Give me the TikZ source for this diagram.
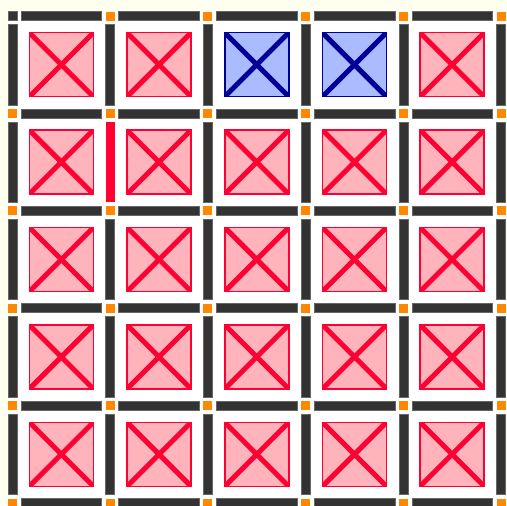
\documentclass[tikz,border=0pt]{standalone}
\usepackage[dvipsnames,svgnames,table]{xcolor}
\usepackage{tikz}
\usetikzlibrary{positioning}

\definecolor{cream}{HTML}{FFFFF0}
\definecolor{wallgray}{HTML}{333333}
\definecolor{postorange}{HTML}{FF8800}
\definecolor{cellred}{HTML}{FF0033}
\definecolor{cellpink}{HTML}{FFB3BA}
\definecolor{cellblue}{HTML}{000099}
\definecolor{cellsky}{HTML}{AABBFF}

\begin{document}
\begin{tikzpicture}[x=97.7pt, y=-97.4pt, shift={(12.5pt,-16pt)},
  wall/.style={fill=wallgray, draw=black!60, line width=0.5pt},
  redwall/.style={fill=cellred},
  post/.style={fill=postorange},
  cornerpost/.style={fill=wallgray, draw=black!60, line width=0.5pt},
  cellbox/.style={draw=edge, fill=face, line width=1.5pt, minimum size=64pt, inner sep=0pt, outer sep=0pt},
  cellcross/.style={draw=edge, line width=5pt}]
  % Background and frame
  \fill[cream] (-12.5pt,16pt) rectangle (494.5pt,-490pt);
  \useasboundingbox (-12.5pt,16pt) rectangle (494.5pt,-490pt);
  \clip (-12.5pt,16pt) rectangle (494.5pt,-490pt);
  \fill[white] ([shift={(-4.5pt,4.5pt)}]0,0) rectangle ([shift={(4.5pt,-4.5pt)}]5,5);

  % Cells
  \foreach \r in {0,...,4}
    \foreach \c in {0,...,4} {
      \colorlet{edge}{cellred}\colorlet{face}{cellpink}
      \ifnum\r=0 \ifnum\c>1 \ifnum\c<4
        \colorlet{edge}{cellblue}\colorlet{face}{cellsky}
      \fi\fi\fi
      \node[cellbox] (cell-\r-\c) at (\c+0.5,\r+0.5) {};
      \begin{scope}
        \clip (cell-\r-\c.north west) rectangle (cell-\r-\c.south east);
        \draw[cellcross] (cell-\r-\c.north west) -- (cell-\r-\c.south east)
                         (cell-\r-\c.north east) -- (cell-\r-\c.south west);
      \end{scope}
    }

  % Horizontal walls
  \foreach \i in {0,...,4}
    \foreach \j in {0,...,5}
      \path[wall] ([shift={(8.5pt,4.5pt)}]\i,\j) rectangle ([shift={(-8.5pt,-4.5pt)}]\i+1,\j);

  % Vertical walls
  \foreach \i in {0,...,5}
    \foreach \j in {0,...,4} {
      \def\look{wall}
      \ifnum\i=1 \ifnum\j=1 \def\look{redwall}\fi\fi
      \path[\look] ([shift={(-4.5pt,-8.5pt)}]\i,\j) rectangle ([shift={(4.5pt,8.5pt)}]\i,\j+1);
    }

  % Posts
  \foreach \i in {0,...,5}
    \foreach \j in {0,...,5} {
      \def\look{post}
      \ifnum\i=0 \ifnum\j=0 \def\look{cornerpost}\fi\fi
      \path[\look] ([shift={(-4.5pt,-4.5pt)}]\i,\j) rectangle ([shift={(4.5pt,4.5pt)}]\i,\j);
    }
\end{tikzpicture}
\end{document}
